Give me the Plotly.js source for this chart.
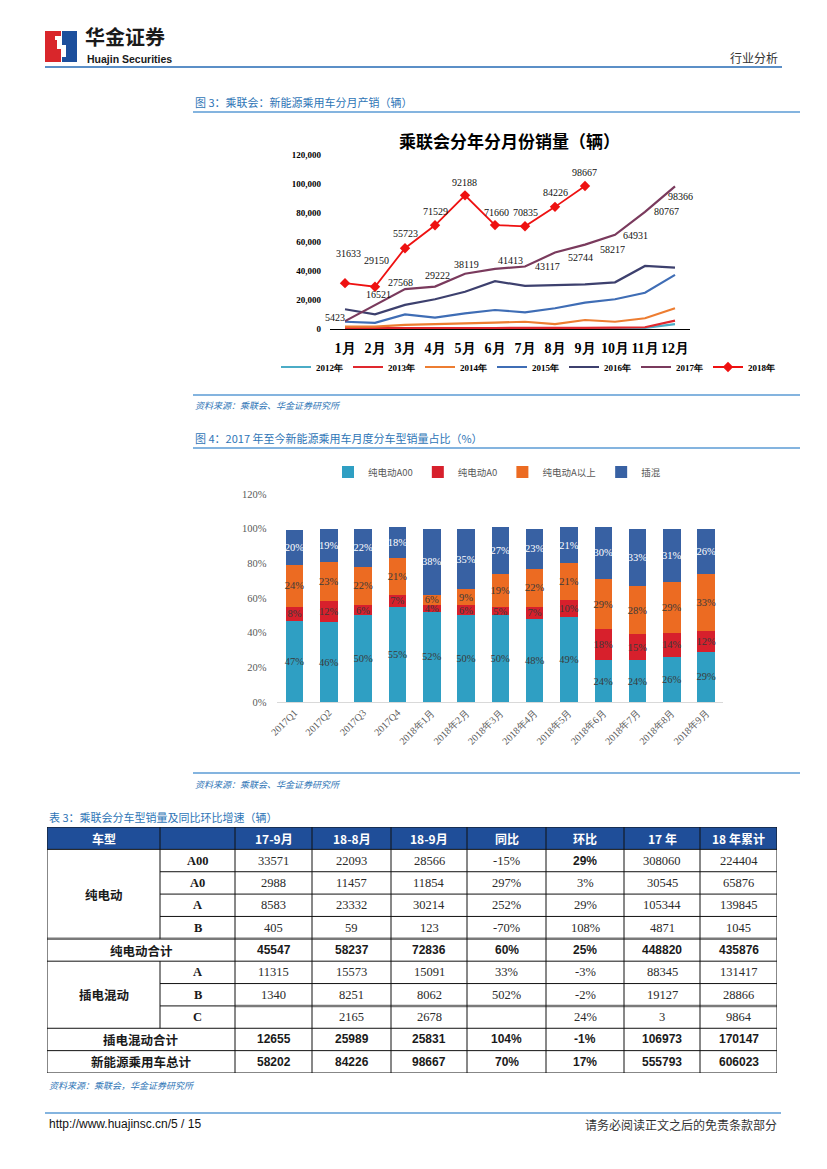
<!DOCTYPE html>
<html><head><meta charset="utf-8">
<script src="https://cdn.plot.ly/plotly-3.0.1.min.js"></script>
<style>body{margin:0;background:#fff}#chart{width:827px;height:1169px}</style>
</head><body><div id="chart"></div>
<script>
// ===== Figure 3 data =====
const months = ['1月','2月','3月','4月','5月','6月','7月','8月','9月','10月','11月','12月'];
const yearNames = ['2012年','2013年','2014年','2015年','2016年','2017年','2018年'];
const sales2012 = [300, 300, 400, 400, 500, 500, 500, 600, 700, 700, 800, 3400];
const sales2013 = [600, 500, 700, 800, 700, 700, 600, 700, 800, 900, 1200, 5800];
const sales2014 = [1600, 1600, 2800, 3500, 3700, 4400, 5000, 3400, 6200, 5000, 7400, 14300];
const sales2015 = [5000, 4300, 10100, 7800, 10800, 13100, 11500, 14300, 18200, 20500, 25000, 37300];
const sales2016 = [13600, 10100, 16600, 20500, 25700, 33000, 29700, 30400, 30800, 32200, 43500, 42300];
const sales2017 = [5423, 16521, 27568, 29222, 38119, 41413, 43117, 52744, 58217, 64931, 80767, 98366];
const sales2018 = [31633, 29150, 55723, 71529, 92188, 71660, 70835, 84226, 98667];
const yTicks1 = [0, 20000, 40000, 60000, 80000, 100000, 120000];

// ===== Figure 4 data =====
const periods = ['2017Q1','2017Q2','2017Q3','2017Q4','2018年1月','2018年2月','2018年3月','2018年4月','2018年5月','2018年6月','2018年7月','2018年8月','2018年9月'];
const seriesNames = ['纯电动A00','纯电动A0','纯电动A以上','插混'];
const shareA00 = [47, 46, 50, 55, 52, 50, 50, 48, 49, 24, 24, 26, 29];
const shareA0 = [8, 12, 6, 7, 4, 6, 5, 7, 10, 18, 15, 14, 12];
const shareAPlus = [24, 23, 22, 21, 6, 9, 19, 22, 21, 29, 28, 29, 33];
const sharePHEV = [20, 19, 22, 18, 38, 35, 27, 23, 21, 30, 33, 31, 26];
const yTicks2 = [0, 20, 40, 60, 80, 100, 120];

// ===== Table 3 data =====
const tableHeader = ['车型', '', '17-9月', '18-8月', '18-9月', '同比', '环比', '17 年', '18 年累计'];
const groupLabels = ['纯电动', '插电混动'];
const rowTypes = ['A00', 'A0', 'A', 'B', '纯电动合计', 'A', 'B', 'C', '插电混动合计', '新能源乘用车总计'];
const col1709 = ['33571', '2988', '8583', '405', '45547', '11315', '1340', '', '12655', '58202'];
const col1808 = ['22093', '11457', '23332', '59', '58237', '15573', '8251', '2165', '25989', '84226'];
const col1809 = ['28566', '11854', '30214', '123', '72836', '15091', '8062', '2678', '25831', '98667'];
const colYoY = ['-15%', '297%', '252%', '-70%', '60%', '33%', '502%', '', '104%', '70%'];
const colMoM = ['29%', '3%', '29%', '108%', '25%', '-3%', '-2%', '24%', '-1%', '17%'];
const col17 = ['308060', '30545', '105344', '4871', '448820', '88345', '19127', '3', '106973', '555793'];
const col18 = ['224404', '65876', '139845', '1045', '435876', '131417', '28866', '9864', '170147', '606023'];

// ===== styles / layout helpers =====
const W = 827, H = 1169;
const X = p => p / W, Y = p => 1 - p / H;
const CJK = 'Noto Sans CJK SC';
const SERIF = 'Liberation Serif, Times New Roman, serif';
const BLUE_TXT = '#2e75b6';
const lineColors = ['#4bacc6', '#e0282e', '#ed7d31', '#3f6db5', '#3d406e', '#7a3a5d', '#ee1111'];
const barColors = ['#2f9fc3', '#d7202c', '#ec6b22', '#3861a3'];

const annotations = [];
const shapes = [];
function txt(text, x, y, o) {
  o = o || {};
  annotations.push({
    text: text, xref: o.xref || 'paper', yref: o.yref || 'paper',
    x: o.xref ? x : X(x), y: o.yref ? y : Y(y), showarrow: false,
    xanchor: o.xanchor || 'center', yanchor: o.yanchor || 'middle',
    xshift: o.xshift || 0, yshift: o.yshift || 0,
    font: Object.assign({family: CJK, size: 12, color: '#222'}, o.font || {})
  });
}
function hline(y, x0, x1, color, w) {
  shapes.push({type: 'line', xref: 'paper', yref: 'paper', x0: X(x0), x1: X(x1), y0: Y(y), y1: Y(y), line: {color: color, width: w}});
}
function rect(x0, y0, x1, y1, fill) {
  shapes.push({type: 'rect', xref: 'paper', yref: 'paper', x0: X(x0), x1: X(x1), y0: Y(y0), y1: Y(y1), fillcolor: fill, line: {width: 0}});
}
function poly(pts, fill) {
  shapes.push({type: 'path', xref: 'paper', yref: 'paper', fillcolor: fill, line: {width: 0},
    path: pts.map((p, i) => (i ? 'L ' : 'M ') + X(p[0]) + ' ' + Y(p[1])).join(' ') + ' Z'});
}

// ---- page header ----
rect(45, 31, 61, 62, '#d9262b');
rect(62, 31, 77, 62, '#1d4f9c');
poly([[55, 36], [61, 36], [61, 45], [66, 45], [66, 57], [62, 57], [62, 49], [57, 49], [57, 40], [55, 40]], '#ffffff');
txt('华金证券', 83, 37, {xanchor: 'left', font: {size: 20, weight: 'bold', color: '#1a1a1a'}});
txt('Huajin Securities', 85, 58.5, {xanchor: 'left', font: {family: 'Liberation Sans Narrow, Liberation Sans, Arial', size: 10.5, weight: 'bold', color: '#1a1a1a'}});
txt('行业分析', 780, 57, {xanchor: 'right', font: {size: 12, color: '#333'}});
hline(67, 45, 782, '#5b8fc7', 2);

// ---- figure 3 frame ----
txt('图 3：乘联会：新能源乘用车分月产销（辆）', 193, 102, {xanchor: 'left', font: {size: 11, color: BLUE_TXT}});
hline(112, 193, 800, '#5b9bd5', 1.5);
txt('乘联会分年分月份销量（辆）', 510, 140, {font: {size: 17, weight: 'bold', color: '#000'}});
hline(395, 193, 800, '#5b9bd5', 1.5);
txt('资料来源：乘联会、华金证券研究所', 193, 405, {xanchor: 'left', font: {size: 9, style: 'italic', color: BLUE_TXT}});

// ---- figure 4 frame ----
txt('图 4：2017 年至今新能源乘用车月度分车型销量占比（%）', 193, 438, {xanchor: 'left', font: {size: 11, color: BLUE_TXT}});
hline(448, 193, 800, '#5b9bd5', 1.5);
hline(773, 193, 800, '#5b9bd5', 1.5);
txt('资料来源：乘联会、华金证券研究所', 193, 784, {xanchor: 'left', font: {size: 9, style: 'italic', color: BLUE_TXT}});

// ---- table frame texts ----
txt('表 3：乘联会分车型销量及同比环比增速（辆）', 47, 817, {xanchor: 'left', font: {size: 11, color: BLUE_TXT}});
txt('资料来源：乘联会，华金证券研究所', 47, 1085, {xanchor: 'left', font: {size: 9, style: 'italic', color: BLUE_TXT}});
hline(1113, 45, 781, '#5b9bd5', 1.5);
txt('http://www.huajinsc.cn/5 / 15', 47, 1124, {xanchor: 'left', font: {family: 'Liberation Sans, Arial', size: 12, color: '#111'}});
txt('请务必阅读正文之后的免责条款部分', 779, 1124, {xanchor: 'right', font: {size: 12, color: '#333'}});

// ---- figure 3 traces ----
const allSales = [sales2012, sales2013, sales2014, sales2015, sales2016, sales2017, sales2018];
const traces = allSales.map((vals, i) => ({
  type: 'scatter', mode: i === 6 ? 'lines+markers' : 'lines',
  x: months.slice(0, vals.length), y: vals, name: yearNames[i],
  xaxis: 'x', yaxis: 'y', legend: 'legend',
  line: {color: lineColors[i], width: i === 6 ? 1.8 : 2.2},
  marker: {symbol: 'diamond', size: 8, color: lineColors[i]},
  hoverinfo: 'skip'
}));
// value labels (offsets are styling)
const off2018 = [[3, 30], [1, 26], [0, 15], [0, 14], [-1, 13], [1, 13], [0, 14], [0, 14], [-1, 13]];
const off2017 = [[-10, 4], [3, 11], [-5, 7], [2, 11], [1, 9], [15, 8], [22, 0], [25, -5], [27, -5], [20, -1], [21, 0], [5, -10]];
const labFont = {family: SERIF, size: 10, color: '#111'};
sales2018.forEach((v, i) => txt(String(v), months[i], v, {xref: 'x', yref: 'y', xshift: off2018[i][0], yshift: off2018[i][1], font: labFont}));
sales2017.forEach((v, i) => txt(String(v), months[i], v, {xref: 'x', yref: 'y', xshift: off2017[i][0], yshift: off2017[i][1], font: labFont}));

// ---- figure 4 traces ----
const shares = [shareA00, shareA0, shareAPlus, sharePHEV];
shares.forEach((vals, i) => traces.push({
  type: 'bar', x: periods, y: vals, name: seriesNames[i],
  xaxis: 'x2', yaxis: 'y2', legend: 'legend2',
  marker: {color: barColors[i], line: {width: 0}},
  text: vals.map(v => v + '%'), textposition: 'inside', insidetextanchor: 'middle',
  constraintext: 'none', textangle: 0,
  textfont: {family: SERIF, size: 10.5, color: i === 3 ? '#ffffff' : '#3a3a3a'},
  hoverinfo: 'skip'
}));

// ---- table (drawn on its own hidden axes: x = column units, y = row index) ----
const colEdges = [0, 113, 188, 265, 344, 420, 499, 577, 653, 730];
const cx = c => (colEdges[c] + colEdges[c + 1]) / 2;
const NR = rowTypes.length + 1;
function tline(x0, y0, x1, y1, color, w) {
  shapes.push({type: 'line', xref: 'x3', yref: 'y3', x0: x0, x1: x1, y0: y0, y1: y1, line: {color: color, width: w}});
}
shapes.push({type: 'rect', xref: 'x3', yref: 'y3', x0: 0, x1: 730, y0: 0, y1: 1, fillcolor: '#1f4e99', line: {width: 0}, layer: 'below'});
// horizontal rules
tline(0, 0, 730, 0, '#111', 1);
tline(0, 1, 730, 1, '#111', 1);
[2, 3, 4, 7].forEach(r => tline(colEdges[1], r, 730, r, '#111', 1));
tline(colEdges[1], 8, colEdges[2], 8, '#111', 1);
tline(colEdges[2], 8, 730, 8, '#7a7a7a', 2.5);
tline(0, 5, 730, 5, '#7a7a7a', 2.5);
[6, 9, 10].forEach(r => tline(0, r, 730, r, '#111', 1));
tline(0, NR, 730, NR, '#111', 1.2);
// vertical rules
tline(0, 0, 0, NR, '#111', 1);
tline(730, 0, 730, NR, '#111', 1);
tline(colEdges[1], 0, colEdges[1], 5, '#111', 1);
tline(colEdges[1], 6, colEdges[1], 9, '#111', 1);
for (let c = 2; c <= 8; c++) tline(colEdges[c], 0, colEdges[c], NR, '#111', 1);

// header texts
const hFont = {family: CJK, size: 12, weight: 'bold', color: '#ffffff'};
txt(tableHeader[0], cx(0), 0.5, {xref: 'x3', yref: 'y3', font: hFont});
for (let c = 2; c < tableHeader.length; c++) txt(tableHeader[c], cx(c), 0.5, {xref: 'x3', yref: 'y3', font: hFont});
// group labels
const gFont = {family: CJK, size: 12.5, weight: 'bold', color: '#1a1a1a'};
txt(groupLabels[0], cx(0), 3, {xref: 'x3', yref: 'y3', font: gFont});
txt(groupLabels[1], cx(0), 7.5, {xref: 'x3', yref: 'y3', font: gFont});
// body rows
const numCols = [col1709, col1808, col1809, colYoY, colMoM, col17, col18];
const normFont = {family: SERIF, size: 12.5, color: '#2a2a2a'};
const boldFont = {family: 'Liberation Sans Narrow, Liberation Sans, Arial', size: 12, weight: 'bold', color: '#1a1a1a'};
rowTypes.forEach((t, i) => {
  const r = i + 1, yc = r + 0.5;
  const isTotal = /合计|总计/.test(t);
  if (isTotal) {
    txt(t, colEdges[2] / 2, yc, {xref: 'x3', yref: 'y3', font: gFont});
  } else {
    txt(t, cx(1), yc, {xref: 'x3', yref: 'y3', font: {family: SERIF, size: 12.5, weight: 'bold', color: '#1a1a1a'}});
  }
  numCols.forEach((col, c) => {
    const bold = isTotal || (i === 0 && c === 4);
    if (col[i] !== '') txt(col[i], cx(c + 2), yc, {xref: 'x3', yref: 'y3', font: bold ? boldFont : normFont});
  });
});

const layout = {
  width: W, height: H, margin: {l: 0, r: 0, t: 0, b: 0},
  paper_bgcolor: '#ffffff', plot_bgcolor: '#ffffff',
  barmode: 'stack', bargap: 0.49, showlegend: true,
  xaxis: {domain: [X(330), X(690)], anchor: 'y', type: 'category', range: [-0.5, 11.5],
    showline: true, linecolor: '#000', linewidth: 1, ticks: '', showgrid: false, zeroline: false,
    ticklabelstandoff: 6, tickfont: {family: SERIF, size: 14, weight: 'bold', color: '#000'}},
  yaxis: {domain: [Y(329), Y(155)], anchor: 'x', range: [0, 120000], tickvals: yTicks1, tickformat: ',d',
    showline: false, showgrid: false, zeroline: false, ticks: '', ticklabelstandoff: 8,
    tickfont: {family: SERIF, size: 9, weight: 'bold', color: '#000'}},
  xaxis2: {domain: [X(277.4), X(723.3)], anchor: 'y2', type: 'category', range: [-0.5, 12.5],
    showline: true, linecolor: '#d9d9d9', linewidth: 1, ticks: '', showgrid: false, zeroline: false,
    tickangle: -45, tickfont: {family: SERIF, size: 10, color: '#595959'}},
  yaxis2: {domain: [Y(702), Y(494)], anchor: 'x2', range: [0, 120], tickvals: yTicks2,
    ticktext: yTicks2.map(v => v + '%'),
    showline: false, showgrid: false, zeroline: false, ticks: '', ticklabelstandoff: 10,
    tickfont: {family: SERIF, size: 10.5, color: '#595959'}},
  xaxis3: {domain: [X(47), X(777)], anchor: 'y3', range: [0, 730], visible: false, fixedrange: true},
  yaxis3: {domain: [Y(1073), Y(827)], anchor: 'x3', range: [NR, 0], visible: false, fixedrange: true},
  legend: {orientation: 'h', x: X(528), y: Y(367), xanchor: 'center', yanchor: 'middle',
    bgcolor: 'rgba(0,0,0,0)',
    font: {family: SERIF, size: 9, weight: 'bold', color: '#000'}, traceorder: 'normal'},
  legend2: {orientation: 'h', x: X(497), y: Y(472), xanchor: 'center', yanchor: 'middle',
    bgcolor: 'rgba(0,0,0,0)',
    font: {family: CJK, size: 9.5, color: '#595959'}, traceorder: 'normal'},
  annotations: annotations, shapes: shapes
};
Plotly.newPlot('chart', traces, layout, {staticPlot: true, displayModeBar: false});
</script>
</body></html>
